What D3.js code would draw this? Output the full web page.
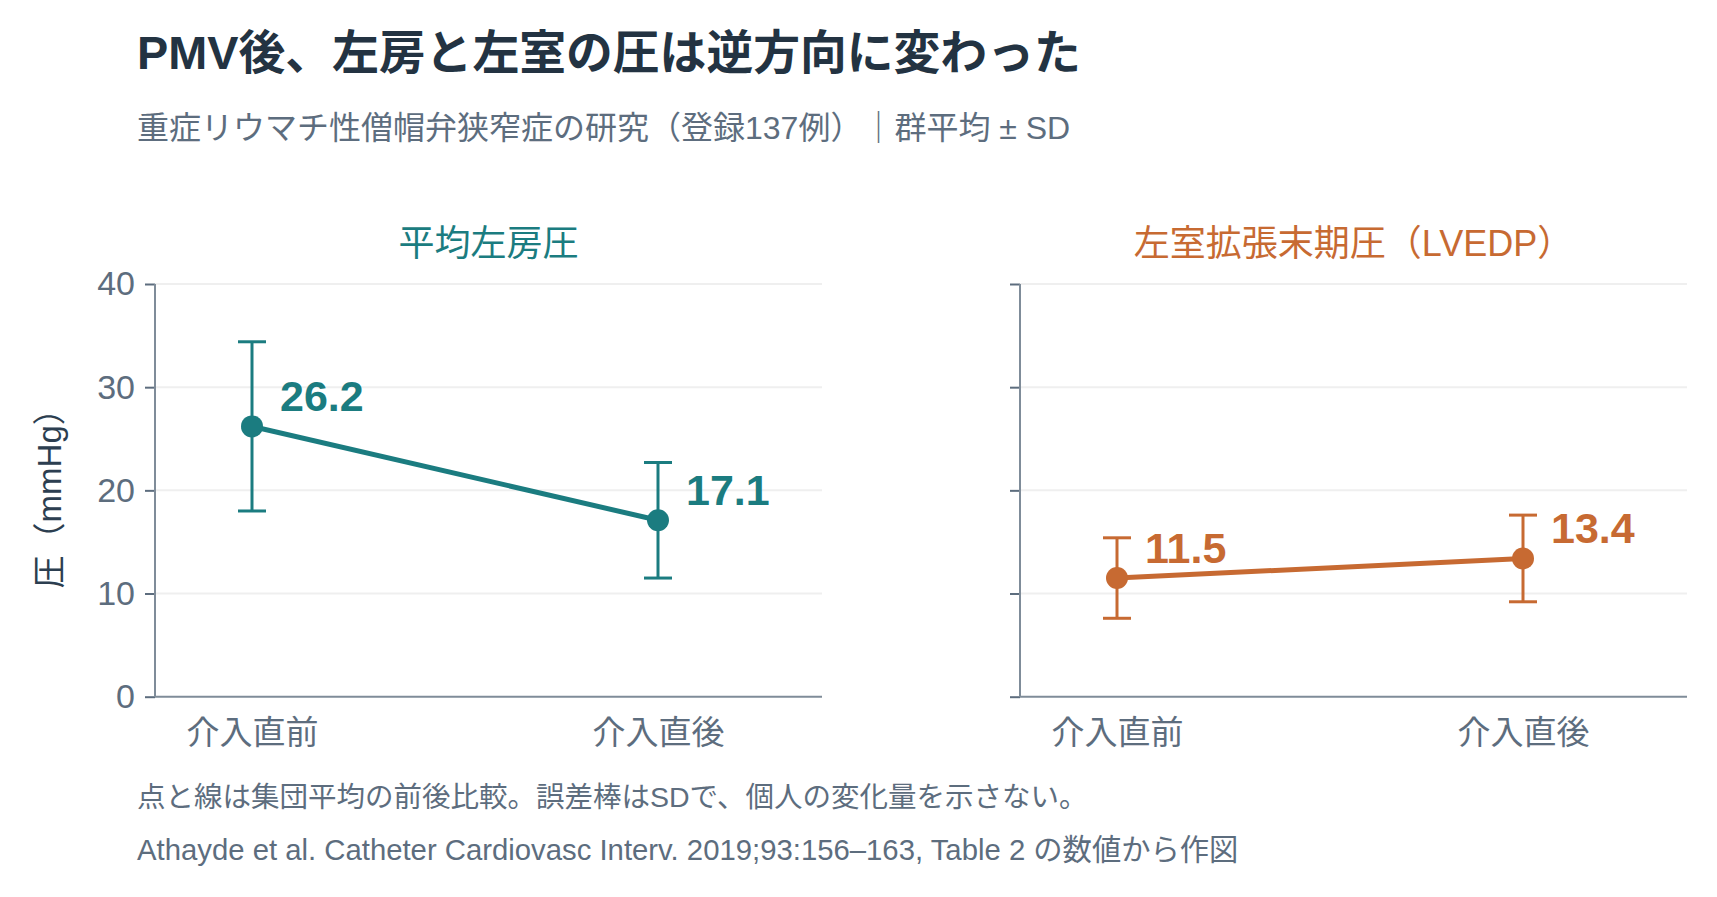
<!DOCTYPE html>
<html><head><meta charset="utf-8">
<script src="https://cdn.jsdelivr.net/npm/d3@7"></script>
<style>
html,body{margin:0;padding:0;background:#fff;}
svg{display:block;}
text{font-family:"Liberation Sans","Noto Sans CJK JP",sans-serif;}
</style></head>
<body>
<svg id="chart" width="1717" height="897"></svg>
<script>
const categories = ["介入直前", "介入直後"];
const panelTitles = ["平均左房圧", "左室拡張末期圧（LVEDP）"];
const laMean = [26.2, 17.1];
const laSD = [8.2, 5.6];
const lvMean = [11.5, 13.4];
const lvSD = [3.9, 4.2];
const yTicks = [0, 10, 20, 30, 40];
const colors = ["#1b7c80", "#c76a32"];

const titleText = "PMV後、左房と左室の圧は逆方向に変わった";
const subtitleText = "重症リウマチ性僧帽弁狭窄症の研究（登録137例）｜群平均 ± SD";
const yLabel = "圧（mmHg）";
const noteText = "点と線は集団平均の前後比較。誤差棒はSDで、個人の変化量を示さない。";
const sourceText = "Athayde et al. Catheter Cardiovasc Interv. 2019;93:156–163, Table 2 の数値から作図";

const svg = d3.select("#chart");

svg.append("text").attr("x", 137).attr("y", 69)
  .attr("font-size", 46.8).attr("font-weight", 700).attr("fill", "#233342")
  .text(titleText);
svg.append("text").attr("x", 137).attr("y", 139)
  .attr("font-size", 32).attr("fill", "#5d6d7e")
  .text(subtitleText);

const plotW = 667, plotTop = 284, plotH = 412.7;
const plotLefts = [155, 1020];
const y = d3.scaleLinear().domain([0, 40]).range([plotH, 0]);

const panels = [
  {mean: laMean, sd: laSD, title: panelTitles[0], color: colors[0], labels: true},
  {mean: lvMean, sd: lvSD, title: panelTitles[1], color: colors[1], labels: false}
];

panels.forEach((p, i) => {
  const g = svg.append("g").attr("transform", `translate(${plotLefts[i]},${plotTop})`);
  const x = d3.scalePoint().domain(categories).range([97, 503]);

  // gridlines
  g.append("g").selectAll("line").data(yTicks.filter(t => t > 0)).join("line")
    .attr("x1", 0).attr("x2", plotW)
    .attr("y1", d => y(d)).attr("y2", d => y(d))
    .attr("stroke", "#efefef").attr("stroke-width", 2);

  // y axis
  const ya = g.append("g").call(d3.axisLeft(y).tickValues(yTicks).tickSize(10).tickPadding(10)
    .tickFormat(p.labels ? d3.format("d") : () => ""));
  ya.select(".domain").remove();
  ya.selectAll(".tick line").attr("stroke", "#5d6d7e").attr("stroke-width", 2);
  ya.selectAll(".tick text").attr("font-size", 34).attr("fill", "#5d6d7e");
  g.append("line").attr("x1", 0).attr("x2", 0).attr("y1", 0).attr("y2", plotH)
    .attr("stroke", "#7f8c99").attr("stroke-width", 2);

  // x axis
  const xa = g.append("g").attr("transform", `translate(0,${plotH})`)
    .call(d3.axisBottom(x).tickSize(0).tickPadding(24));
  xa.select(".domain").attr("d", `M0,0H${plotW}`).attr("stroke", "#7f8c99").attr("stroke-width", 2);
  xa.selectAll(".tick text").attr("font-size", 33).attr("fill", "#5d6d7e")
    .attr("dy", "0.71em");

  // panel title
  g.append("text").attr("x", plotW / 2).attr("y", -28).attr("text-anchor", "middle")
    .attr("font-size", 36).attr("fill", p.color).text(p.title);

  const data = categories.map((c, k) => ({c, m: p.mean[k], s: p.sd[k]}));

  // error bars
  const eb = g.append("g").selectAll("g").data(data).join("g");
  eb.append("line").attr("x1", d => x(d.c)).attr("x2", d => x(d.c))
    .attr("y1", d => y(d.m + d.s)).attr("y2", d => y(d.m - d.s))
    .attr("stroke", p.color).attr("stroke-width", 3);
  eb.append("line").attr("x1", d => x(d.c) - 14).attr("x2", d => x(d.c) + 14)
    .attr("y1", d => y(d.m + d.s)).attr("y2", d => y(d.m + d.s))
    .attr("stroke", p.color).attr("stroke-width", 3);
  eb.append("line").attr("x1", d => x(d.c) - 14).attr("x2", d => x(d.c) + 14)
    .attr("y1", d => y(d.m - d.s)).attr("y2", d => y(d.m - d.s))
    .attr("stroke", p.color).attr("stroke-width", 3);

  // line
  g.append("path").datum(data)
    .attr("d", d3.line().x(d => x(d.c)).y(d => y(d.m)))
    .attr("fill", "none").attr("stroke", p.color).attr("stroke-width", 5);

  // points
  g.append("g").selectAll("circle").data(data).join("circle")
    .attr("cx", d => x(d.c)).attr("cy", d => y(d.m)).attr("r", 11)
    .attr("fill", p.color);

  // value labels
  g.append("g").selectAll("text").data(data).join("text")
    .attr("x", d => x(d.c) + 28).attr("y", d => y(d.m) - 15)
    .attr("font-size", 43).attr("font-weight", 700).attr("fill", p.color)
    .text(d => d3.format(".1f")(d.m));
});

// y label
svg.append("text").attr("transform", `translate(61,${plotTop + plotH / 2}) rotate(-90)`)
  .attr("text-anchor", "middle").attr("font-size", 33).attr("fill", "#2c3e50")
  .text(yLabel);

svg.append("text").attr("x", 137).attr("y", 807)
  .attr("font-size", 28.5).attr("fill", "#5d6d7e").text(noteText);
svg.append("text").attr("x", 137).attr("y", 860)
  .attr("font-size", 29.3).attr("fill", "#5d6d7e").text(sourceText);
</script>
</body></html>
